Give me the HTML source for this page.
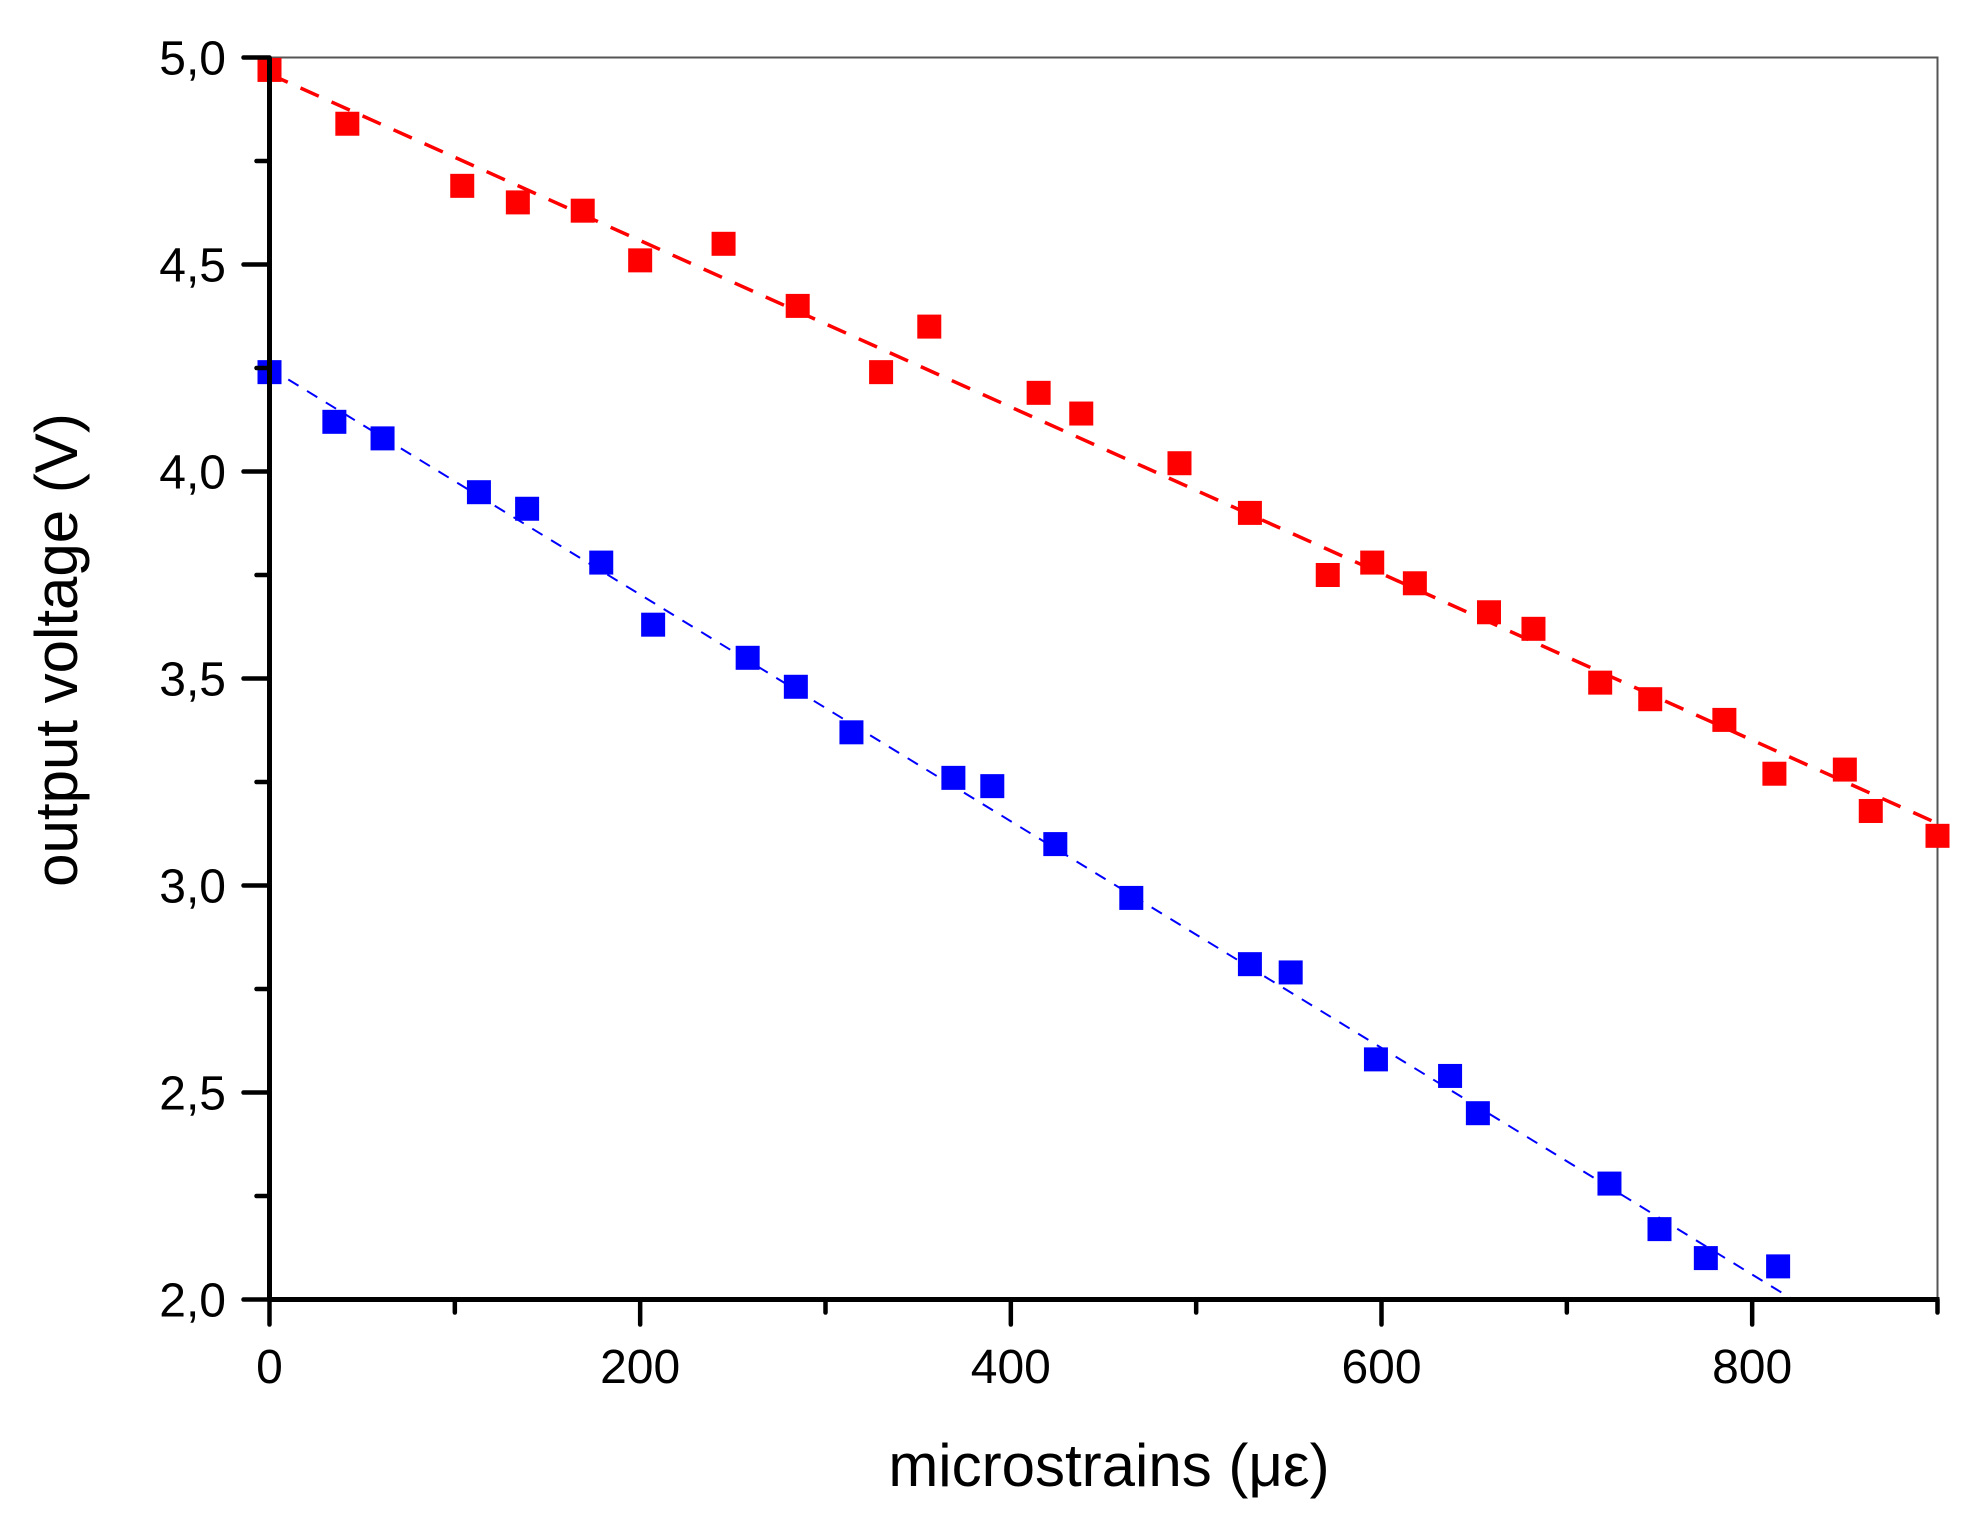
<!DOCTYPE html>
<html><head><meta charset="utf-8"><style>
html,body{margin:0;padding:0;background:#fff}
svg{display:block}
text{font-family:"Liberation Sans",Arial,sans-serif;fill:#000}
</style></head><body>
<svg id="chart" width="1981" height="1538" viewBox="0 0 1981 1538" xmlns="http://www.w3.org/2000/svg">
<g id="plot"></g>
<text x="1109" y="1486" font-size="60" text-anchor="middle">microstrains (με)</text>
<text transform="translate(77,650) rotate(-90)" font-size="60" text-anchor="middle">output voltage (V)</text>
</svg>
<script>
const xTicks = [0, 200, 400, 600, 800];
const yTicks = [2.0, 2.5, 3.0, 3.5, 4.0, 4.5, 5.0];
const yTickLabels = ["2,0", "2,5", "3,0", "3,5", "4,0", "4,5", "5,0"];
const redX = [0,42,104,134,169,200,245,285,330,356,415,438,491,529,571,595,618,658,682,718,745,785,812,850,864,900];
const redY = [4.97,4.84,4.69,4.65,4.63,4.51,4.55,4.40,4.24,4.35,4.19,4.14,4.02,3.90,3.75,3.78,3.73,3.66,3.62,3.49,3.45,3.40,3.27,3.28,3.18,3.12];
const blueX = [0,35,61,113,139,179,207,258,284,314,369,390,424,465,529,551,597,637,652,723,750,775,814];
const blueY = [4.24,4.12,4.08,3.95,3.91,3.78,3.63,3.55,3.48,3.37,3.26,3.24,3.10,2.97,2.81,2.79,2.58,2.54,2.45,2.28,2.17,2.10,2.08];
const redFitX = [0, 900];
const redFitY = [4.96, 3.15];
const blueFitX = [0, 822];
const blueFitY = [4.25, 2.0];

const X0=269.5, X1=1937.5, Y0=1299.5, Y1=57.5;
const xs = v => X0 + (v-0)/(900-0)*(X1-X0);
const ys = v => Y0 - (v-2)/(5-2)*(Y0-Y1);
const NS="http://www.w3.org/2000/svg";
const g=document.getElementById('plot');
function mk(tag,attrs){const e=document.createElementNS(NS,tag);for(const k in attrs)e.setAttribute(k,attrs[k]);g.appendChild(e);return e;}

let fr=mk('path',{d:`M${X0},${Y1}H${X1}V${Y0}`,fill:'none',stroke:'#555','stroke-width':2});



function fit(fx,fy,color,dash,w,name){
  const l=mk('line',{x1:xs(fx[0]),y1:ys(fy[0]),x2:xs(fx[1]),y2:ys(fy[1]),stroke:color,'stroke-width':w,'stroke-dasharray':dash});
  
  
}
fit(redFitX,redFitY,'#ff0000','20 14',3.5,'red-fit-line');
fit(blueFitX,blueFitY,'#0000ff','12 10',2,'blue-fit-line');

function pts(px,py,color,name){
  for(let i=0;i<px.length;i++){
    const r=mk('rect',{x:xs(px[i])-12,y:ys(py[i])-12,width:24,height:24,fill:color});
    
    
  }
}
pts(redX,redY,'#ff0000','red-point');
pts(blueX,blueY,'#0000ff','blue-point');

let ax=mk('line',{x1:X0,y1:Y0,x2:X1+2,y2:Y0,stroke:'#000','stroke-width':5});


let ay=mk('line',{x1:X0,y1:Y0+2,x2:X0,y2:Y1,stroke:'#000','stroke-width':5});



for(let v=0;v<=900;v+=100){
  const major=v%200===0;
  const t=mk('line',{x1:xs(v),y1:Y0,x2:xs(v),y2:Y0+(major?25:13),stroke:'#000','stroke-width':4.5,'stroke-linecap':'round'});
  
  
}
xTicks.forEach(v=>{
  const t=mk('text',{x:xs(v),y:1383,'font-size':48,'text-anchor':'middle'});
  t.textContent=String(v);
  
  
});
for(let k=0;k<=12;k++){
  const v=2+k*0.25;
  const major=k%2===0;
  const t=mk('line',{x1:X0,y1:ys(v),x2:X0-(major?26:13),y2:ys(v),stroke:'#000','stroke-width':4.5,'stroke-linecap':'round'});
  
  
}
yTicks.forEach((v,i)=>{
  const t=mk('text',{x:226,y:ys(v)+17,'font-size':48,'text-anchor':'end'});
  t.textContent=yTickLabels[i];
  
  
});
</script>
</body></html>
